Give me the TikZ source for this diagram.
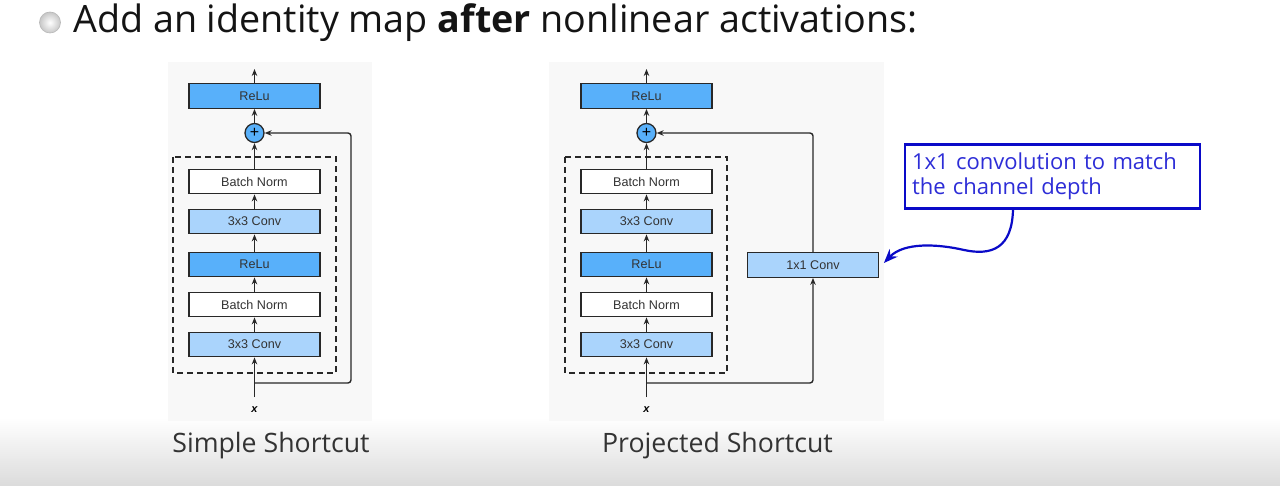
\documentclass[tikz,border=0pt]{standalone}
\usepackage{fontspec}
\setmainfont{Open Sans}
\newfontfamily\arial{Liberation Sans}
\usetikzlibrary{arrows.meta,calc}
\definecolor{relu}{RGB}{88,176,250}
\definecolor{conv}{RGB}{170,212,252}
\definecolor{edge}{RGB}{40,40,40}
\definecolor{panel}{RGB}{248,248,248}
\definecolor{annot}{RGB}{10,10,200}
\definecolor{annottext}{RGB}{45,45,215}
\begin{document}
\begin{tikzpicture}[x=1pt,y=-1pt,
  layer/.style={draw=edge, line width=1.3pt, minimum width=131pt, minimum height=24.5pt,
    inner sep=0pt, font=\arial\fontsize{12.6}{14}\selectfont, text=black!80},
  relubox/.style={layer, fill=relu},
  convbox/.style={layer, fill=conv},
  normbox/.style={layer, fill=white},
  plusnode/.style={circle, draw=edge, line width=1.3pt, fill=relu, minimum size=19pt,
    inner sep=0pt, font=\arial\fontsize{16}{16}\selectfont},
  arr/.style={draw=edge, line width=1.4pt, -{Stealth[length=7pt,width=5.5pt]}},
  blockbox/.style={draw=edge, line width=1.3pt, dash pattern=on 6pt off 4pt},
  xlabel/.style={font=\arial\bfseries\itshape\fontsize{11}{11}\selectfont, inner sep=0pt},
  caption/.style={anchor=base, inner sep=0pt, font=\fontsize{26.7}{30}\selectfont, text=black!80},
]
\useasboundingbox (0,0) rectangle (1280,486);
\fill[white] (0,0) rectangle (1280,486);
\shade[top color=white, bottom color=black!14] (0,418) rectangle (1280,486);

% panels
\fill[panel] (168,62) rectangle (372,421);
\fill[panel] (549,62) rectangle (884,421);

% title
\shade[inner color=white, outer color=black!22, draw=black!28, line width=0.6pt] (50,22.5) circle (10.5);
\node[anchor=base west, inner sep=0pt, font=\fontsize{37.7}{40}\selectfont, text=black!92] (title) at (73,33)
  {Add an identity map \textbf{after} nonlinear activations:};

% ---------------- left: simple shortcut
\draw[blockbox] (173,157) rectangle (336,373);
\node[relubox] (L6) at (254.5,96) {ReLu};
\node[plusnode] (Lp) at (254.5,133) {+};
\node[normbox] (L5) at (254.5,181.5) {Batch Norm};
\node[convbox] (L4) at (254.5,221.5) {3x3 Conv};
\node[relubox] (L3) at (254.5,264.5) {ReLu};
\node[normbox] (L2) at (254.5,304.5) {Batch Norm};
\node[convbox] (L1) at (254.5,344.5) {3x3 Conv};
\coordinate (Lin) at (254.5,397);
\coordinate (Lout) at (254.5,69);
\coordinate (Lsplit) at (254.5,383);
\coordinate (Lcorner1) at (351,383);
\coordinate (Lcorner2) at (351,133);
\node[xlabel] (Lx) at (254.5,410) {x};
\draw[arr] (Lin) -- (L1);
\draw[arr] (L1) -- (L2);
\draw[arr] (L2) -- (L3);
\draw[arr] (L3) -- (L4);
\draw[arr] (L4) -- (L5);
\draw[arr] (L5) -- (Lp);
\draw[arr] (Lp) -- (L6);
\draw[arr] (L6) -- (Lout);
\draw[arr, rounded corners=3pt] (Lsplit) -- (Lcorner1) -- (Lcorner2) -- (Lp);

% ---------------- right: projected shortcut
\draw[blockbox] (565,157) rectangle (727,373);
\node[relubox] (R6) at (646.5,96) {ReLu};
\node[plusnode] (Rp) at (646.5,133) {+};
\node[normbox] (R5) at (646.5,181.5) {Batch Norm};
\node[convbox] (R4) at (646.5,221.5) {3x3 Conv};
\node[relubox] (R3) at (646.5,264.5) {ReLu};
\node[normbox] (R2) at (646.5,304.5) {Batch Norm};
\node[convbox] (R1) at (646.5,344.5) {3x3 Conv};
\node[convbox, minimum width=130.5pt] (Rproj) at (813,265) {1x1 Conv};
\coordinate (Rin) at (646.5,397);
\coordinate (Rout) at (646.5,69);
\coordinate (Rsplit) at (646.5,383);
\coordinate (Rcorner1) at (813,383);
\coordinate (Rcorner2) at (813,133);
\node[xlabel] (Rx) at (646.5,410) {x};
\draw[arr] (Rin) -- (R1);
\draw[arr] (R1) -- (R2);
\draw[arr] (R2) -- (R3);
\draw[arr] (R3) -- (R4);
\draw[arr] (R4) -- (R5);
\draw[arr] (R5) -- (Rp);
\draw[arr] (Rp) -- (R6);
\draw[arr] (R6) -- (Rout);
\draw[arr, rounded corners=3pt] (Rsplit) -- (Rcorner1) -- (Rproj);
\draw[arr, rounded corners=3pt] (Rproj) -- (Rcorner2) -- (Rp);

% annotation
\node[draw=annot, line width=2.4pt, minimum width=295pt, minimum height=64pt, text width=281pt,
  inner xsep=7pt, inner ysep=0pt, align=left, text=annottext,
  font=\fontsize{22}{25}\selectfont] (note) at (1052.5,176.5)
  {1x1 convolution to match\\the channel depth};
\draw[annot, line width=2.2pt, -{Stealth[length=14pt,width=11pt]}]
  ([xshift=-39.5pt]note.south) .. controls (1012,248) and (992,256) .. (964,250)
  .. controls (938,244) and (904,242) .. ([xshift=5pt,yshift=2pt]Rproj.east);

% captions
\node[caption] (cap1) at (271,452) {Simple Shortcut};
\node[caption] (cap2) at (717.5,452) {Projected Shortcut};
\end{tikzpicture}
\end{document}
